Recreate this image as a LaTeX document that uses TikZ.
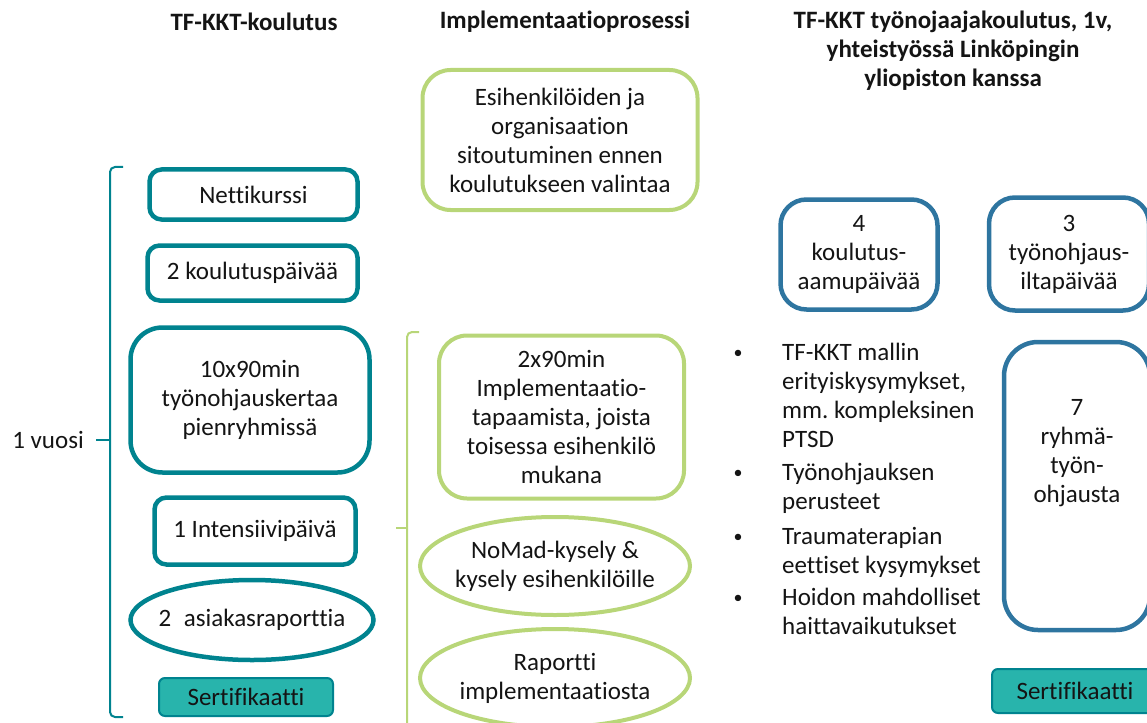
\documentclass[tikz,border=0pt]{standalone}
\usepackage{fontspec}
\setmainfont{Carlito}[Ligatures=NoCommon]
\usetikzlibrary{shapes.geometric,positioning}
\definecolor{tealline}{RGB}{0,131,143}
\definecolor{tealfill}{RGB}{40,180,172}
\definecolor{greenline}{RGB}{184,214,120}
\definecolor{blueline}{RGB}{46,117,160}
\definecolor{textdark}{RGB}{20,20,20}
\frenchspacing

\begin{document}
\begin{tikzpicture}[x=1pt, y=-1pt,
  teksti/.style={font=\fontsize{25}{29}\selectfont, align=center, text=textdark, inner sep=0pt},
  otsikko/.style={font=\bfseries\fontsize{25}{29}\selectfont, align=center, text=textdark},
  tealbox/.style={teksti, draw=tealline, line width=4.5pt, rounded corners=12pt, fill=white},
  tealoval/.style={teksti, ellipse, draw=tealline, line width=4.5pt, fill=white, inner xsep=-14pt},
  sertbox/.style={teksti, draw=tealline, line width=2pt, rounded corners=6pt, fill=tealfill},
  greenbox/.style={teksti, draw=greenline, line width=4pt, rounded corners=28pt, fill=white},
  greenoval/.style={teksti, ellipse, draw=greenline, line width=4pt, fill=white, inner xsep=-10pt},
  bluebox/.style={teksti, draw=blueline, line width=4.5pt, rounded corners=26pt, fill=white},
  luettelo/.style={teksti, align=flush left, text width=300pt, anchor=base west},
  pallo/.style={teksti, font=\fontsize{18}{20}\selectfont, anchor=base}]

  % --- Page frame ---
  \useasboundingbox (0,0) rectangle (1147,722);
  \clip (0,0) rectangle (1147,722);

  % --- Column titles ---
  \node[otsikko] (otsikko1) at (254,22) {TF-KKT-koulutus};
  \node[otsikko] (otsikko2) at (565,22) {Implementaatioprosessi};
  \node[otsikko] (otsikko3) at (953,51) {TF-KKT työnojaajakoulutus, 1v,\\yhteistyössä Linköpingin\\yliopiston kanssa};

  % --- TF-KKT-koulutus (left column) ---
  \node[tealbox, minimum width=208, minimum height=50] (netti) at (253.5,194.5) {Nettikurssi};
  \node[tealbox, minimum width=210, minimum height=55] (koulutus) at (252.5,273) {2 koulutuspäivää};
  \node[tealbox, rounded corners=32pt, minimum width=239, minimum height=145] (pienryhma) at (250,400)
    {10x90min\\työnohjauskertaa\\pienryhmissä};
  \node[tealbox, minimum width=201, minimum height=67] (intensiivi) at (255,531) {1 Intensiivipäivä};
  \node[tealoval, minimum width=243, minimum height=80] (asiakas) at (252,620) {2\enspace asiakasraporttia};
  \node[sertbox, minimum width=174, minimum height=38] (sert1) at (246,697) {Sertifikaatti};

  % brace for 1 vuosi
  \draw[tealline, line width=2pt, rounded corners=5pt] (123,167) -- (110,167) -- (110,717) -- (123,717);
  \draw[tealline, line width=2pt] (96,440) -- (110,440);
  \node[teksti, anchor=east] (vuosi) at (84,440) {1 vuosi};

  % --- Implementaatioprosessi (middle column) ---
  \node[greenbox, minimum width=275, minimum height=140] (sitoutuminen) at (560,140)
    {Esihenkilöiden ja\\organisaation\\sitoutuminen ennen\\koulutukseen valintaa};
  \node[greenbox, minimum width=245, minimum height=163] (tapaamiset) at (561.5,417)
    {2x90min\\Implementaatio-\\tapaamista, joista\\toisessa esihenkilö\\mukana};
  \node[greenoval, minimum width=270, minimum height=98] (nomad) at (555,566)
    {NoMad-kysely \&\\kysely esihenkilöille};
  \node[greenoval, minimum width=270, minimum height=98] (raportti) at (555,678)
    {Raportti\\implementaatiosta};

  % brace for the implementation steps
  \draw[greenline, line width=2pt, rounded corners=5pt] (419,332) -- (407,332) -- (407,740);
  \draw[greenline, line width=2pt] (396,528) -- (407,528);

  % --- Työnohjaajakoulutus (right column) ---
  \node[bluebox, minimum width=157, minimum height=110] (aamu) at (859,254.5)
    {4\\koulutus-\\aamupäivää};
  \node[bluebox, minimum width=160, minimum height=113] (ilta) at (1069,254)
    {3\\työnohjaus-\\iltapäivää};
  \node[bluebox, rounded corners=34pt, minimum width=146, minimum height=288] (ryhma) at (1077,486) {};
  \node[teksti] (ryhmateksti) at (1077,453) {7\\ryhmä-\\työn-\\ohjausta};
  \node[sertbox, minimum width=166, minimum height=44] (sert2) at (1075,691) {Sertifikaatti};

  % topics
  \node[pallo] (pallo1) at (738,358) {\textbullet};
  \node[luettelo] (aihe1) at (782,360) {TF-KKT mallin\\erityiskysymykset,\\mm. kompleksinen\\PTSD};
  \node[pallo] (pallo2) at (738,478) {\textbullet};
  \node[luettelo] (aihe2) at (782,480) {Työnohjauksen\\perusteet};
  \node[pallo] (pallo3) at (738,542) {\textbullet};
  \node[luettelo] (aihe3) at (782,544) {Traumaterapian\\eettiset kysymykset};
  \node[pallo] (pallo4) at (738,603) {\textbullet};
  \node[luettelo] (aihe4) at (782,605) {Hoidon mahdolliset\\haittavaikutukset};

\end{tikzpicture}
\end{document}
